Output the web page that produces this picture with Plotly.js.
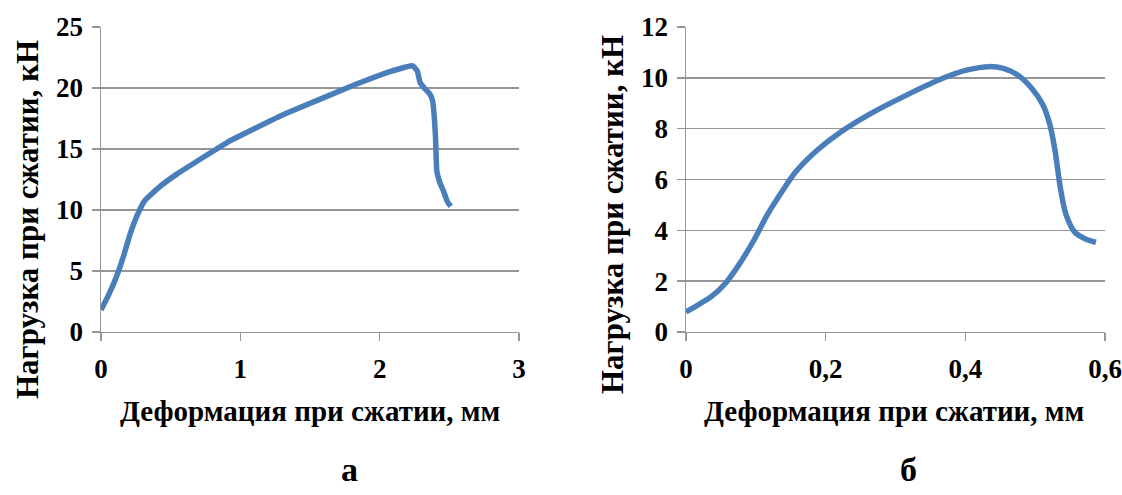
<!DOCTYPE html>
<html>
<head>
<meta charset="utf-8">
<script src="https://cdn.plot.ly/plotly-3.0.1.min.js"></script>
<style>html,body{margin:0;padding:0;background:#fff;}#chart{width:1122px;height:495px;}</style>
</head>
<body>
<div id="chart"></div>
<script>
// Panel а
const defA = [0, 0.06, 0.11, 0.16, 0.21, 0.265, 0.316, 0.42, 0.547, 0.907, 1.318, 1.83, 2.09, 2.217, 2.24, 2.27, 2.29, 2.32, 2.36, 2.38, 2.40, 2.41, 2.435, 2.46, 2.487, 2.51];
const loadA = [1.8, 3.16, 4.5, 6.15, 8.06, 9.7, 10.8, 11.9, 12.96, 15.55, 17.86, 20.3, 21.4, 21.8, 21.8, 21.4, 20.45, 20.0, 19.5, 18.95, 16.2, 13.2, 12.15, 11.5, 10.65, 10.3];
// Panel б
const defB = [0, 0.0204, 0.0357, 0.056, 0.0766, 0.097, 0.117, 0.138, 0.158, 0.189, 0.2196, 0.2656, 0.3166, 0.3677, 0.403, 0.434, 0.4545, 0.475, 0.495, 0.511, 0.521, 0.5286, 0.536, 0.544, 0.557, 0.572, 0.587];
const loadB = [0.79, 1.12, 1.38, 1.9, 2.68, 3.6, 4.64, 5.55, 6.33, 7.18, 7.83, 8.61, 9.33, 9.98, 10.31, 10.44, 10.37, 10.11, 9.59, 8.94, 8.16, 7.11, 5.68, 4.64, 3.92, 3.66, 3.53];

const xTitle = 'Деформация при сжатии, мм';
const yTitle = 'Нагрузка при сжатии, кН';
const panelLabels = ['а', 'б'];

const blue = '#4a7ebb';
const grid = '#969696';
const fam = '"Liberation Serif", "Times New Roman", serif';
const font = {family: fam, size: 27, color: '#000', weight: 'bold'};

const traces = [
  {x: defA, y: loadA, type: 'scatter', mode: 'lines', line: {color: blue, width: 5.5, shape: 'spline', smoothing: 0.3}, xaxis: 'x', yaxis: 'y', hoverinfo: 'none'},
  {x: defB, y: loadB, type: 'scatter', mode: 'lines', line: {color: blue, width: 5.5, shape: 'spline', smoothing: 0.8}, xaxis: 'x2', yaxis: 'y2', hoverinfo: 'none'}
];

function xa(domain, range, dtick, anchor) {
  return {domain: domain, range: range, dtick: dtick, tick0: 0, anchor: anchor,
    showgrid: false, zeroline: false, showline: true, linecolor: grid, linewidth: 1.5,
    ticks: 'outside', ticklen: 8, tickwidth: 1.5, tickcolor: grid,
    tickfont: font, ticklabelstandoff: 4, fixedrange: true};
}
function ya(range, dtick, anchor) {
  return {domain: [0.3293, 0.9455], range: range, dtick: dtick, tick0: 0, anchor: anchor,
    showgrid: true, gridcolor: grid, gridwidth: 1.5, zeroline: false,
    showline: true, linecolor: grid, linewidth: 1.5,
    ticks: 'outside', ticklen: 8, tickwidth: 1.5, tickcolor: grid,
    tickfont: font, ticklabelstandoff: 3, fixedrange: true};
}

const xFont = {family: fam, size: 29, color: '#000', weight: 'bold'};
const yFont = {family: fam, size: 31, color: '#000', weight: 'bold'};
const pFont = {family: fam, size: 34, color: '#000', weight: 'bold'};
const layout = {
  width: 1122, height: 495,
  margin: {l: 0, r: 0, t: 0, b: 0},
  paper_bgcolor: '#fff', plot_bgcolor: '#fff',
  showlegend: false,
  separators: ', ',
  xaxis: xa([101/1122, 519/1122], [0, 3], 1, 'y'),
  yaxis: ya([0, 25], 5, 'x'),
  xaxis2: xa([686/1122, 1105/1122], [0, 0.6], 0.2, 'y2'),
  yaxis2: ya([0, 12], 2, 'x2'),
  annotations: [
    {text: xTitle, xref: 'paper', yref: 'paper', x: 310/1122, y: 1 - 411/495, showarrow: false, font: xFont, xanchor: 'center', yanchor: 'middle'},
    {text: xTitle, xref: 'paper', yref: 'paper', x: 894/1122, y: 1 - 411/495, showarrow: false, font: xFont, xanchor: 'center', yanchor: 'middle'},
    {text: yTitle, xref: 'paper', yref: 'paper', x: 27/1122, y: 1 - 220/495, showarrow: false, font: yFont, textangle: -90, xanchor: 'center', yanchor: 'middle'},
    {text: yTitle, xref: 'paper', yref: 'paper', x: 612/1122, y: 1 - 215/495, showarrow: false, font: yFont, textangle: -90, xanchor: 'center', yanchor: 'middle'},
    {text: panelLabels[0], xref: 'paper', yref: 'paper', x: 349/1122, y: 1 - 469/495, showarrow: false, font: pFont, xanchor: 'center', yanchor: 'middle'},
    {text: panelLabels[1], xref: 'paper', yref: 'paper', x: 908/1122, y: 1 - 469/495, showarrow: false, font: pFont, xanchor: 'center', yanchor: 'middle'}
  ]
};

Plotly.newPlot('chart', traces, layout, {staticPlot: true, displayModeBar: false});
</script>
</body>
</html>
